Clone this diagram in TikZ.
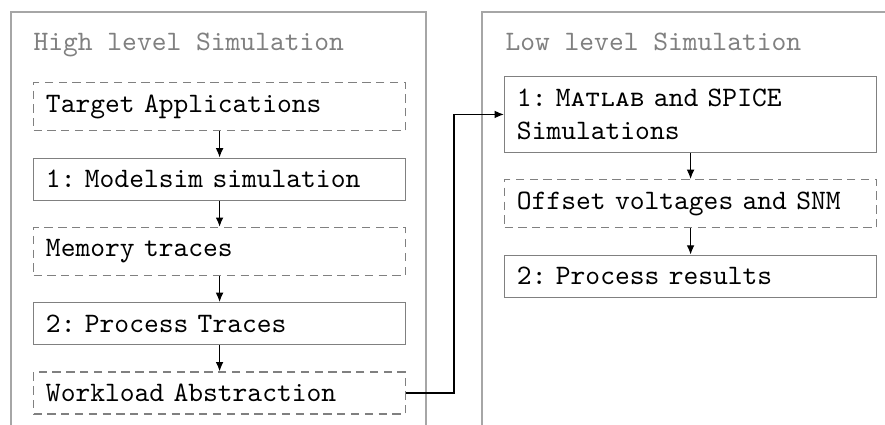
\documentclass[tikz,border=0pt]{standalone}
\usetikzlibrary{arrows.meta,positioning}
\begin{document}
\begin{tikzpicture}[x=0.3623pt,y=-0.3623pt,
  font=\fontsize{10.2pt}{12.2pt}\selectfont\ttfamily\frenchspacing,
  panel/.style={draw=black!35,line width=0.6pt},
  ptitle/.style={anchor=base west,inner sep=0pt,text=black!50},
  stage/.style={draw=black!50,line width=0.4pt,anchor=north west,
    inner xsep=4.5pt,inner ysep=4.4pt,text width=125.8pt,align=left},
  data/.style={stage,dashed,dash pattern=on 3pt off 2pt},
  arr/.style={-{Latex[length=3.4pt,width=2.8pt]},line width=0.5pt},
  node distance=9.5pt]
\useasboundingbox (0,0) rectangle (885,425);
\clip (0,0) rectangle (885,425);

% open-bottom panels
\draw[panel] (11,440) -- (11,12) -- (426,12) -- (426,440);
\draw[panel] (482,440) -- (482,12) -- (900,12);
\node[ptitle] (thigh) at (33,51) {High level Simulation};
\node[ptitle] (tlow) at (505,51) {Low level Simulation};

% high level flow
\node[data] (ta) at (33,82) {Target Applications};
\node[stage,below=of ta.south west,anchor=north west] (ms) {1: Modelsim simulation};
\node[data,below=of ms.south west,anchor=north west] (mt) {Memory traces};
\node[stage,below=of mt.south west,anchor=north west] (pt) {2: Process Traces};
\node[data,below=of pt.south west,anchor=north west] (wl) {Workload Abstraction};

% low level flow
\node[stage] (mat) at (504,76) {1: \textsc{Matlab} and SPICE Simulations};
\node[data,below=of mat.south west,anchor=north west] (off) {Offset voltages and SNM};
\node[stage,below=of off.south west,anchor=north west] (pr) {2: Process results};

\draw[arr] (ta) -- (ms);
\draw[arr] (ms) -- (mt);
\draw[arr] (mt) -- (pt);
\draw[arr] (pt) -- (wl);
\draw[arr] (mat) -- (off);
\draw[arr] (off) -- (pr);

\coordinate (bend) at (454,0);
\draw[arr] (wl.east) -- (wl.east -| bend) |- (mat.west);
\end{tikzpicture}
\end{document}
